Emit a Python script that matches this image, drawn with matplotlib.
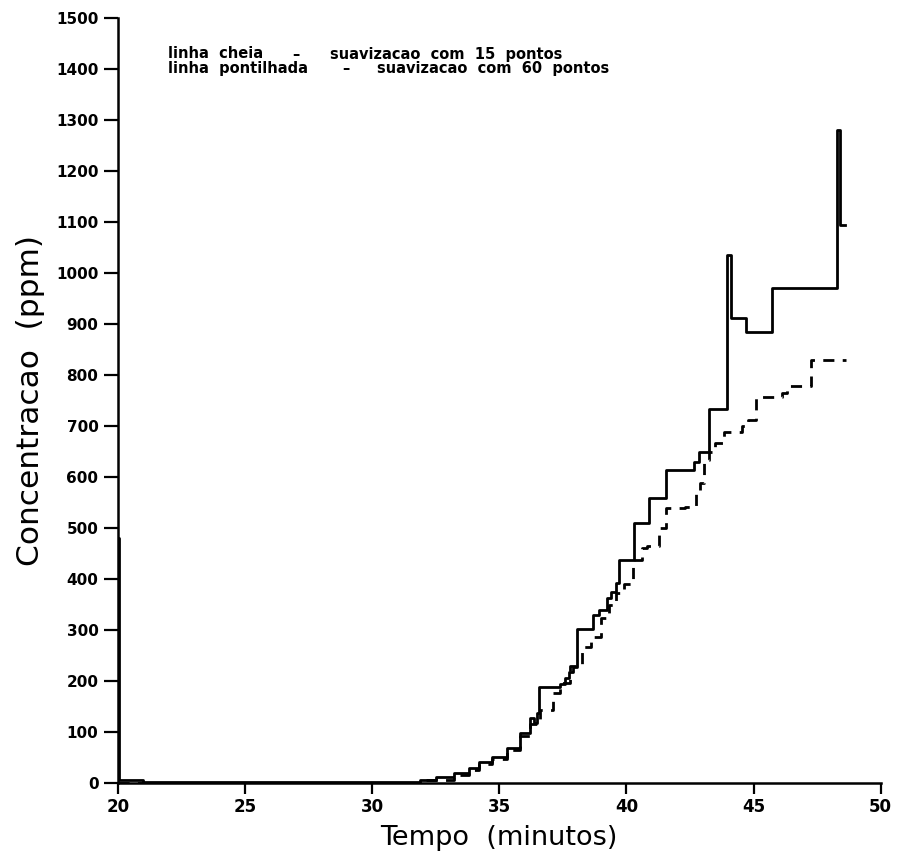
import matplotlib
matplotlib.use("Agg")
import matplotlib.pyplot as plt

# curva com suavizacao de 15 pontos (linha cheia)
T_CHEIA = [20.0, 20.05, 21.0, 28.0, 31.5, 31.9, 32.5, 33.2, 33.8, 34.2, 34.7, 35.3, 35.8,
           36.2, 36.35, 36.5, 36.58, 37.37, 37.6, 37.75, 37.9, 38.04, 38.67, 38.94, 39.25,
           39.4, 39.6, 39.7, 40.3, 40.9, 41.57, 42.67, 42.87, 43.26, 43.97, 44.12, 44.7,
           45.74, 48.3, 48.38, 48.6]
C_CHEIA = [480, 5, 2, 3, 3, 6, 12, 19, 29, 42, 51, 68, 98,
           128, 118, 137, 188, 195, 206, 218, 228, 302, 330, 340, 363,
           375, 392, 437, 510, 559, 614, 630, 649, 733, 1035, 912, 884,
           970, 1280, 1095, 1095]

# curva com suavizacao de 60 pontos (linha pontilhada)
T_PONT = [20.0, 32.0, 33.2, 33.8, 34.2, 34.7, 35.3, 35.8, 36.2, 36.6, 37.1, 37.4, 37.8,
          38.27, 38.6, 39.0, 39.3, 39.6, 39.9, 40.24, 40.6, 40.8, 41.3, 41.57, 42.3,
          42.75, 42.9, 43.06, 43.26, 43.5, 43.85, 44.56, 44.8, 45.1, 46.1, 46.3, 47.27, 48.64]
C_PONT = [0, 5, 15, 25, 38, 48, 64, 92, 115, 143, 176, 196, 230,
          267, 286, 323, 350, 372, 390, 437, 460, 465, 500, 539, 541,
          575, 588, 633, 649, 666, 688, 700, 712, 757, 765, 778, 829, 829]

X_TICKS = [20, 25, 30, 35, 40, 45, 50]
Y_TICKS = list(range(0, 1501, 100))
LEGENDA = [("linha  cheia", "\u2013", "suavizacao  com  15  pontos"),
           ("linha  pontilhada", "\u2013", "suavizacao  com  60  pontos")]

fig = plt.figure(figsize=(9.07, 8.6), dpi=100)
ax = fig.add_axes([0.130, 0.0895, 0.841, 0.8895])

ax.step(T_CHEIA, C_CHEIA, where="post", color="black", lw=2.0)
ax.step(T_PONT, C_PONT, where="post", color="black", lw=2.0,
        linestyle=(0, (4, 3)))

ax.set_xlim(20, 50)
ax.set_ylim(0, 1500)
ax.set_xticks(X_TICKS)
ax.set_yticks(Y_TICKS)
ax.spines["top"].set_visible(False)
ax.spines["right"].set_visible(False)
ax.spines["left"].set_linewidth(1.8)
ax.spines["bottom"].set_linewidth(1.8)
ax.tick_params(axis="y", direction="out", length=10, width=1.6, labelsize=11, pad=4)
ax.tick_params(axis="x", direction="out", length=8, width=1.6, labelsize=12, pad=3)
for lab in ax.get_yticklabels() + ax.get_xticklabels():
    lab.set_fontweight("bold")

ax.set_xlabel("Tempo  (minutos)", fontsize=19.5, labelpad=6)
ax.set_ylabel("Concentracao  (ppm)", fontsize=22.5, labelpad=8)

# legenda escrita dentro do grafico, em tres pedacos por linha
pos = [([168, 292, 330], 54), ([168, 342, 377], 69)]
for linha, (xs, ypx) in zip(LEGENDA, pos):
    for parte, xp in zip(linha, xs):
        fig.text(xp / 907, 1 - ypx / 860, parte, fontsize=10.5, fontweight="bold",
                 va="center", ha="left")

fig.savefig("out.png", dpi=100, facecolor="white")
